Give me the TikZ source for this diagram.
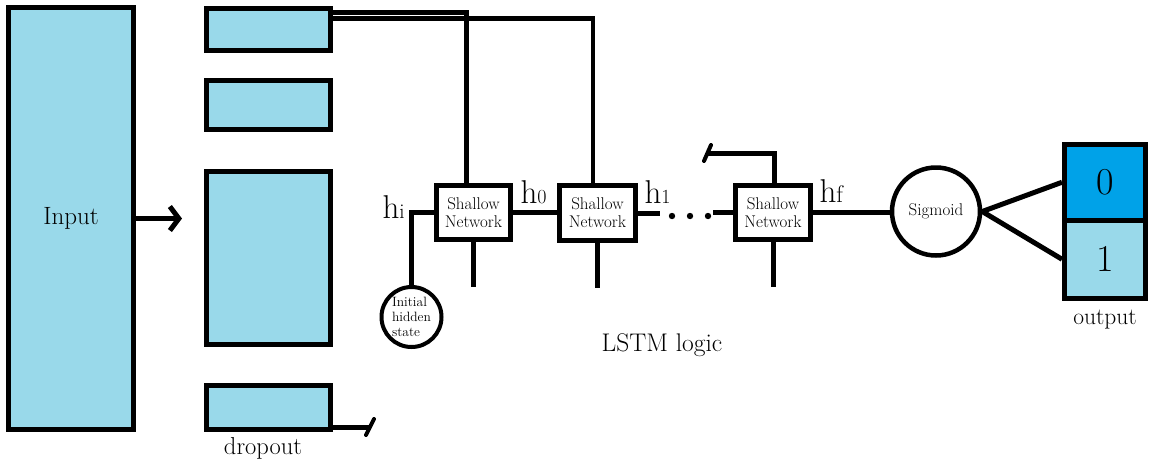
\documentclass[tikz,border=0pt]{standalone}
\usepackage{fontspec}
\usetikzlibrary{arrows.meta}
\definecolor{boxblue}{HTML}{99D9EA}
\definecolor{cellblue}{HTML}{00A2E8}
\newcommand\fsz[2]{\fontsize{#1}{#2}\selectfont}
\begin{document}
\begin{tikzpicture}[x=1pt, y=-1pt, line width=5pt,
    blk/.style={rectangle, draw, fill=boxblue, inner sep=2pt},
    netbox/.style={rectangle, draw, fill=white, inner sep=1pt, align=center, font=\fsz{17}{18}},
    hlab/.style={anchor=base west, inner sep=0pt},
    tick/.style={line width=4pt, line cap=round}]
    \useasboundingbox (0,0) rectangle (1152,467);
    % input and dropout layers
    \node[blk, minimum width=125pt, minimum height=422pt, font=\fsz{25}{28}] (input) at (71,218.5) {Input\hspace{16pt}};
    \foreach \n/\y/\h in {drop1/29.5/42, drop2/105/49, drop3/258/173, drop4/407.5/44}
        \node[blk, minimum width=124pt, minimum height=\h] (\n) at (268.5,\y) {};
    \node[font=\fsz{24.5}{27}] (droplabel) at (263,448) {dropout};
    \draw[-{Straight Barb[length=9pt, width=24pt]}, shorten >=22pt] (input.east) -- (input.east -| drop3.west);
    % lstm chain
    \node[netbox, minimum width=74pt, minimum height=54pt] (sn1) at (473.5,212.5) {Shallow\\Network};
    \node[netbox, minimum width=76pt, minimum height=55pt] (sn2) at (597.5,213) {Shallow\\Network};
    \node[netbox, minimum width=75pt, minimum height=54pt] (sn3) at (773,212.5) {Shallow\\Network};
    \node[circle, draw, line width=4pt, minimum size=60pt, inner sep=0pt, align=left, font=\fsz{13.5}{15}] (init) at (411.5,317) {Initial\\hidden\\state};
    \node[font=\fsz{25.5}{28}] (lstmlabel) at (662,345) {LSTM logic};
    \node[hlab] (hi) at (380,218) {\fsz{33}{33}h\fsz{21}{21}i};
    \node[hlab] (h0) at (518,203) {\fsz{33}{33}h\fsz{20}{20}0};
    \node[hlab] (h1) at (642,203) {\fsz{33}{33}h\fsz{20}{20}1};
    \node[hlab] (hf) at (817,202) {\fsz{33}{33}h\fsz{24}{24}f};
    \draw ([yshift=-6.5pt]drop1.north east) -| ([xshift=-7.5pt]sn1.north);
    \draw[line width=4.5pt] ([yshift=-12.5pt]drop1.north east) -| ([xshift=-4.5pt]sn2.north);
    \draw (sn1.west) -| (init.north);
    \draw (sn1.east) -- (sn1.east -| sn2.west);
    \foreach \n in {sn1,sn2,sn3} {
        \coordinate (\n-out) at ([yshift=-45pt]\n.south);
        \draw (\n.south) -- (\n-out);
    }
    \coordinate (dotsA) at (660,216);
    \coordinate (dotsB) at (713,216);
    \draw (sn2.east) -- (sn2.east -| dotsA);
    \foreach \x in {672,690,708}
        \fill (\x,216) circle (3.2pt);
    \draw (sn3.west -| dotsB) -- (sn3.west);
    \coordinate (sn3back) at (708,153);
    \draw ([xshift=1.5pt]sn3.north) |- (sn3back);
    \draw[tick] ([shift={(3,-8)}]sn3back) -- ([shift={(-4,8)}]sn3back);
    \coordinate (dropend) at (370,427);
    \draw ([yshift=5pt]drop4.south east) -- (dropend);
    \draw[tick] ([shift={(-4,8)}]dropend) -- ([shift={(4,-8)}]dropend);
    % sigmoid and output
    \node[circle, draw, line width=4.5pt, minimum size=88pt, font=\fsz{17}{18}] (sig) at (936,211.5) {Sigmoid};
    \node[rectangle, draw, fill=cellblue, minimum width=81pt, minimum height=75.5pt, font=\fsz{38}{38}] (out0) at (1105,182.25) {0};
    \node[rectangle, draw, fill=boxblue, minimum width=81pt, minimum height=78.5pt, font=\fsz{38}{38}] (out1) at (1105,259.25) {1};
    \node[font=\fsz{23.5}{26}] (outlabel) at (1105,320) {output};
    \draw (sn3.east) -- (sn3.east -| sig.west);
    \draw (sig.east) -- (out0.west);
    \draw (sig.east) -- (out1.west);
\end{tikzpicture}
\end{document}
